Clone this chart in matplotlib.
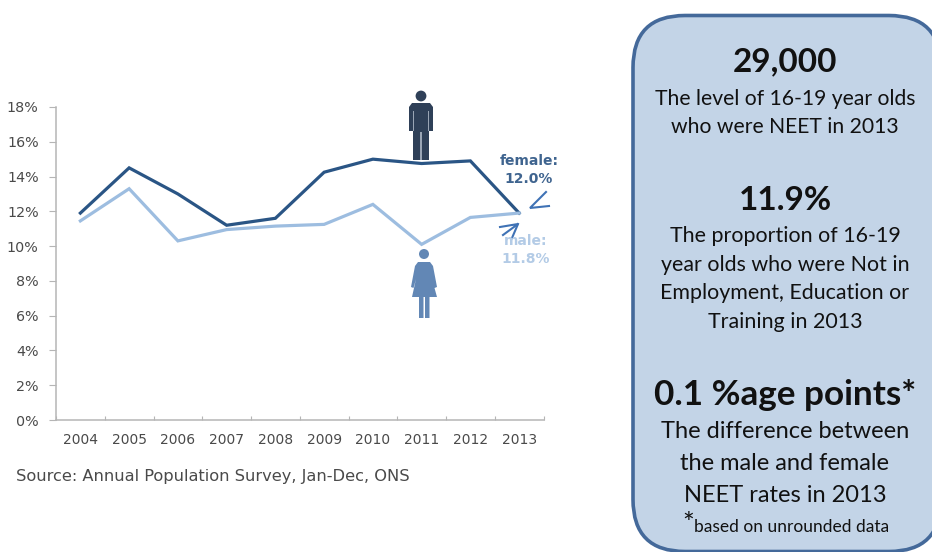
import matplotlib
matplotlib.use('Agg')
import matplotlib.pyplot as plt
from matplotlib.patches import Circle, FancyBboxPatch, Polygon, Rectangle

years = ['2004', '2005', '2006', '2007', '2008', '2009', '2010', '2011', '2012', '2013']
female = [11.9, 14.5, 13.0, 11.2, 11.6, 14.25, 15.0, 14.75, 14.9, 11.9]
male = [11.45, 13.3, 10.3, 10.95, 11.15, 11.25, 12.4, 10.1, 11.65, 11.9]
yticks = [0, 2, 4, 6, 8, 10, 12, 14, 16, 18]

DARK = '#2a5585'
LIGHT = '#9dbde0'
GREY = '#4a4a4a'
W, H = 932, 552

fig = plt.figure(figsize=(W / 100, H / 100), dpi=100)

# overlay in pixel coordinates for the panel, icons and notes
bg = fig.add_axes([0, 0, 1, 1])
bg.set_xlim(0, W)
bg.set_ylim(H, 0)
bg.axis('off')

ax = fig.add_axes([56 / W, 1 - 420 / H, (543.5 - 56) / W, (420 - 107) / H])
ax.patch.set_alpha(0)
ax.plot(range(10), female, color=DARK, lw=2.3, solid_joinstyle='miter')
ax.plot(range(10), male, color=LIGHT, lw=2.3, solid_joinstyle='miter')
ax.set_xlim(-0.5, 9.5)
ax.set_ylim(0, 18)
ax.set_yticks(yticks)
ax.set_yticklabels([f'{v}%' for v in yticks], fontsize=10.3, color=GREY)
ax.set_xticks([i - 0.5 for i in range(11)])
ax.set_xticklabels([])
ax.set_xticks(range(10), minor=True)
ax.set_xticklabels(years, minor=True, fontsize=10, color=GREY)
ax.tick_params(axis='x', which='major', direction='in', length=3, color='#b5b5b5')
ax.tick_params(axis='x', which='minor', length=0, pad=9)
ax.tick_params(axis='y', length=5, color='#b5b5b5', pad=7.5)
for side in ['top', 'right']:
    ax.spines[side].set_visible(False)
for side in ['left', 'bottom']:
    ax.spines[side].set_color('#b5b5b5')
    ax.spines[side].set_linewidth(1.1)

bg.text(16, 476, 'Source: Annual Population Survey, Jan-Dec, ONS', fontsize=11.7,
        color=GREY, va='center', ha='left')

# man icon, pale slits separate the arms and legs
MAN = '#2f4058'
bg.add_patch(Circle((421, 96), 5.4, color=MAN, lw=0))
bg.add_patch(Polygon([(412, 103), (430, 103), (433, 107), (433, 131), (429, 131), (429, 160),
                      (413, 160), (413, 131), (409, 131), (409, 107)], closed=True, color=MAN, lw=0))
bg.add_patch(Rectangle((413.4, 111), 0.9, 20, color='#9aa5b5', lw=0))
bg.add_patch(Rectangle((427.7, 111), 0.9, 20, color='#9aa5b5', lw=0))
bg.add_patch(Rectangle((420.4, 132), 1.2, 28, color='#9aa5b5', lw=0))

# woman icon
WOMAN = '#6287b5'
bg.add_patch(Circle((424, 254), 5, color=WOMAN, lw=0))
bg.add_patch(Polygon([(418, 262), (430, 262), (433, 266), (437, 287), (434.5, 288), (432, 279),
                      (437, 297), (429.5, 297), (429.5, 318), (425, 318), (425, 297),
                      (423.5, 297), (423.5, 318), (419, 318), (419, 297), (412, 297),
                      (416, 279), (413.5, 288), (411, 287), (415, 266)], closed=True,
                     color=WOMAN, lw=0))

# end labels with hand drawn arrows
bg.text(529, 161, 'female:', fontsize=10, fontweight='bold', color='#3f648f', ha='center', va='center')
bg.text(529, 179, '12.0%', fontsize=10, fontweight='bold', color='#3f648f', ha='center', va='center')
bg.text(526, 241, 'male:', fontsize=10, fontweight='bold', color='#b3cbe6', ha='center', va='center')
bg.text(526, 259, '11.8%', fontsize=10, fontweight='bold', color='#b3cbe6', ha='center', va='center')
ARROW = '#3f72b5'
bg.plot([546, 530, 549], [192, 208, 206], color=ARROW, lw=1.5, solid_joinstyle='miter')
bg.plot([500, 518, 503], [227, 224, 235], color=ARROW, lw=1.5, solid_joinstyle='miter')
bg.plot([518, 512], [224, 238], color=ARROW, lw=1.5)

# summary panel, runs off the right edge and touches the bottom one
bg.add_patch(FancyBboxPatch((633 + 55, 15.5 + 55), 308 - 110, 536 - 110,
                            boxstyle='round,pad=55,rounding_size=52',
                            fc='#c3d4e7', ec='#44699a', lw=2.6, clip_on=True))

FONT = 'Lato'
CX = 785
panel_text = [
    ('29,000', 62, 24, 'bold'),
    ('The level of 16-19 year olds', 99, 15.2, 'normal'),
    ('who were NEET in 2013', 127, 15.2, 'normal'),
    ('11.9%', 200, 24, 'bold'),
    ('The proportion of 16-19', 236, 15.4, 'normal'),
    ('year olds who were Not in', 265, 15.4, 'normal'),
    ('Employment, Education or', 293, 15.4, 'normal'),
    ('Training in 2013', 322, 15.4, 'normal'),
    ('0.1 %age points*', 395, 25.3, 'bold'),
    ('The difference between', 431, 17, 'normal'),
    ('the male and female', 463, 17, 'normal'),
    ('NEET rates in 2013', 495, 17, 'normal'),
]
for txt, y, size, weight in panel_text:
    bg.text(CX, y, txt, fontsize=size, fontweight=weight, family=FONT, color='#111111',
            ha='center', va='center')
bg.text(682, 525, '*', fontsize=20, family=FONT, color='#111111', ha='left', va='center')
bg.text(694, 527, 'based on unrounded data', fontsize=12.5, family=FONT, color='#111111',
        ha='left', va='center')

fig.savefig('out.png', dpi=100)
